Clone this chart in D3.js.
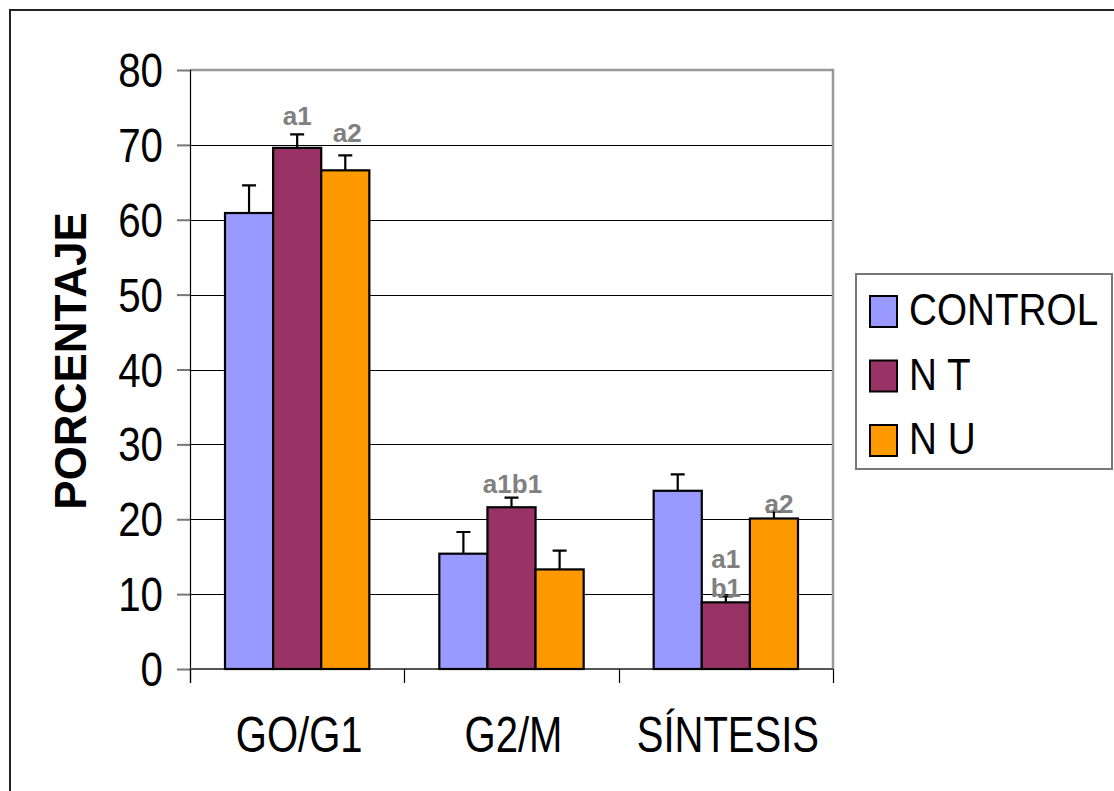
<!DOCTYPE html>
<html>
<head>
<meta charset="utf-8">
<script src="https://cdn.jsdelivr.net/npm/d3@7"></script>
<style>
  html, body { margin: 0; padding: 0; background: #fff; }
  svg { display: block; font-family: "Liberation Sans", Arial, sans-serif; }
</style>
</head>
<body>
<svg id="chart" width="1114" height="791"></svg>
<script>
// Cell-cycle phase distribution (%) by treatment
const phases = ["GO/G1", "G2/M", "SÍNTESIS"];
const series = ["CONTROL", "N T", "N U"];
const colors = ["#9999FF", "#993366", "#FF9900"];
const controlValues = [60.9, 15.4, 23.8];
const ntValues = [69.6, 21.6, 8.9];
const nuValues = [66.6, 13.3, 20.1];
const controlErrors = [3.7, 2.9, 2.2];
const ntErrors = [1.8, 1.3, 0.8];
const nuErrors = [2.0, 2.5, 0.9];
const yTicks = [0, 10, 20, 30, 40, 50, 60, 70, 80];
// significance letters: [phase index, series index, text lines]
const marks = [
  [0, 1, ["a1"]],
  [0, 2, ["a2"]],
  [1, 1, ["a1b1"]],
  [2, 1, ["a1", "b1"]],
  [2, 2, ["a2"]]
];

const valuesBySeries = [controlValues, ntValues, nuValues];
const errorsBySeries = [controlErrors, ntErrors, nuErrors];
const rows = [];
phases.forEach((p, i) => series.forEach((s, j) => {
  rows.push({ phase: p, series: s, si: j, value: valuesBySeries[j][i], err: errorsBySeries[j][i] });
}));

const svg = d3.select("#chart");
const plot = { left: 190, right: 833, top: 70, bottom: 669 };

const y = d3.scaleLinear().domain([0, 80]).range([plot.bottom, plot.top]);
const x0 = d3.scaleBand().domain(phases).range([plot.left, plot.right]);
const inset = 35;
const x1 = d3.scaleBand().domain(series).range([inset, x0.bandwidth() - inset]);

// outer frame
svg.append("rect")
  .attr("x", 10).attr("y", 10).attr("width", 1200).attr("height", 900)
  .attr("fill", "none").attr("stroke", "#222").attr("stroke-width", 2);

// horizontal gridlines
svg.append("g").selectAll("line")
  .data(yTicks.filter(t => t > 0 && t < 80))
  .join("line")
  .attr("x1", plot.left).attr("x2", plot.right)
  .attr("y1", d => Math.round(y(d)) + 0.5).attr("y2", d => Math.round(y(d)) + 0.5)
  .attr("stroke", "#000").attr("stroke-width", 1);

// plot area top and right edges
svg.append("path")
  .attr("d", `M${plot.left},${y(80)}H${plot.right}V${plot.bottom}`)
  .attr("fill", "none").attr("stroke", "#999").attr("stroke-width", 2.5);

// y axis
const yAxis = d3.axisLeft(y).tickValues(yTicks).tickSize(13).tickFormat("");
const gy = svg.append("g").attr("transform", `translate(${plot.left},0)`).call(yAxis);
gy.select(".domain").remove();
gy.selectAll(".tick line").attr("stroke", "#777").attr("stroke-width", 2);
svg.append("line")
  .attr("x1", plot.left + 0.5).attr("x2", plot.left + 0.5)
  .attr("y1", plot.top).attr("y2", plot.bottom + 14)
  .attr("stroke", "#000").attr("stroke-width", 1.2);

// y tick labels (narrow)
svg.append("g").selectAll("text")
  .data(yTicks)
  .join("text")
  .attr("transform", d => `translate(163,${y(d) + 17}) scale(0.84,1)`)
  .attr("text-anchor", "end")
  .attr("font-size", 48)
  .attr("fill", "#000")
  .text(d => d);

// x axis baseline and category dividers
svg.append("line")
  .attr("x1", plot.left).attr("x2", plot.right)
  .attr("y1", plot.bottom).attr("y2", plot.bottom)
  .attr("stroke", "#555").attr("stroke-width", 2);
const dividers = phases.map(p => x0(p)).concat([x0(phases[phases.length - 1]) + x0.bandwidth()]);
svg.append("g").selectAll("line")
  .data(dividers)
  .join("line")
  .attr("x1", d => Math.round(d) + 0.5).attr("x2", d => Math.round(d) + 0.5)
  .attr("y1", plot.bottom).attr("y2", plot.bottom + 14)
  .attr("stroke", "#000").attr("stroke-width", 1.2);

// x category labels (narrow)
svg.append("g").selectAll("text")
  .data(phases)
  .join("text")
  .attr("transform", d => `translate(${x0(d) + x0.bandwidth() / 2 + 2},752) scale(0.8,1)`)
  .attr("text-anchor", "middle")
  .attr("font-size", 50)
  .attr("fill", "#000")
  .text(d => d);

// y axis title
svg.append("text")
  .attr("transform", "translate(86,361) rotate(-90)")
  .attr("text-anchor", "middle")
  .attr("font-size", 44)
  .attr("font-weight", "bold")
  .attr("fill", "#000")
  .text("PORCENTAJE");

// bars
const groups = svg.append("g").selectAll("g")
  .data(phases)
  .join("g")
  .attr("transform", d => `translate(${x0(d)},0)`);

groups.selectAll("rect")
  .data(p => rows.filter(r => r.phase === p))
  .join("rect")
  .attr("x", d => x1(d.series))
  .attr("y", d => y(d.value))
  .attr("width", x1.bandwidth())
  .attr("height", d => y(0) - y(d.value))
  .attr("fill", d => colors[d.si])
  .attr("stroke", "#000")
  .attr("stroke-width", 2.2);

// error bars (upper half)
const capHalf = 7;
groups.selectAll("path.err")
  .data(p => rows.filter(r => r.phase === p))
  .join("path")
  .attr("class", "err")
  .attr("d", d => {
    const cx = x1(d.series) + x1.bandwidth() / 2;
    const top = y(d.value + d.err);
    return `M${cx},${y(d.value)}V${top}M${cx - capHalf},${top}H${cx + capHalf}`;
  })
  .attr("fill", "none")
  .attr("stroke", "#000")
  .attr("stroke-width", 2.2);

// significance letters; gap above the error cap and horizontal nudge per mark
const markGaps = [9, 13, 5, 0, -1];
const markNudge = [0, 2, 1, 0, 5];
const lineStep = 29;
marks.forEach(([pi, si, lines], m) => {
  const p = phases[pi];
  const s = series[si];
  const v = valuesBySeries[si][pi];
  const e = errorsBySeries[si][pi];
  const cx = x0(p) + x1(s) + x1.bandwidth() / 2 + markNudge[m];
  // stacked labels sit just above the bar; single ones above the error cap
  const base = lines.length > 1 ? y(v) - 5 : y(v + e) - markGaps[m];
  lines.slice().reverse().forEach((t, k) => {
    svg.append("text")
      .attr("x", cx)
      .attr("y", base - k * lineStep)
      .attr("text-anchor", "middle")
      .attr("font-size", 26)
      .attr("font-weight", "bold")
      .attr("fill", "#808080")
      .text(t);
  });
});

// legend
const legend = svg.append("g");
legend.append("rect")
  .attr("x", 856).attr("y", 274).attr("width", 256).attr("height", 195)
  .attr("fill", "#fff").attr("stroke", "#777").attr("stroke-width", 2);
const legendRows = legend.selectAll("g")
  .data(series)
  .join("g")
  .attr("transform", (d, i) => `translate(0,${i * 64.5})`);
legendRows.append("rect")
  .attr("x", 870).attr("y", 296).attr("width", 27).attr("height", 31)
  .attr("fill", (d, i) => colors[i])
  .attr("stroke", "#000").attr("stroke-width", 2);
legendRows.append("text")
  .attr("transform", "translate(909,325) scale(0.86,1)")
  .attr("font-size", 45)
  .attr("fill", "#000")
  .text(d => d);
</script>
</body>
</html>
